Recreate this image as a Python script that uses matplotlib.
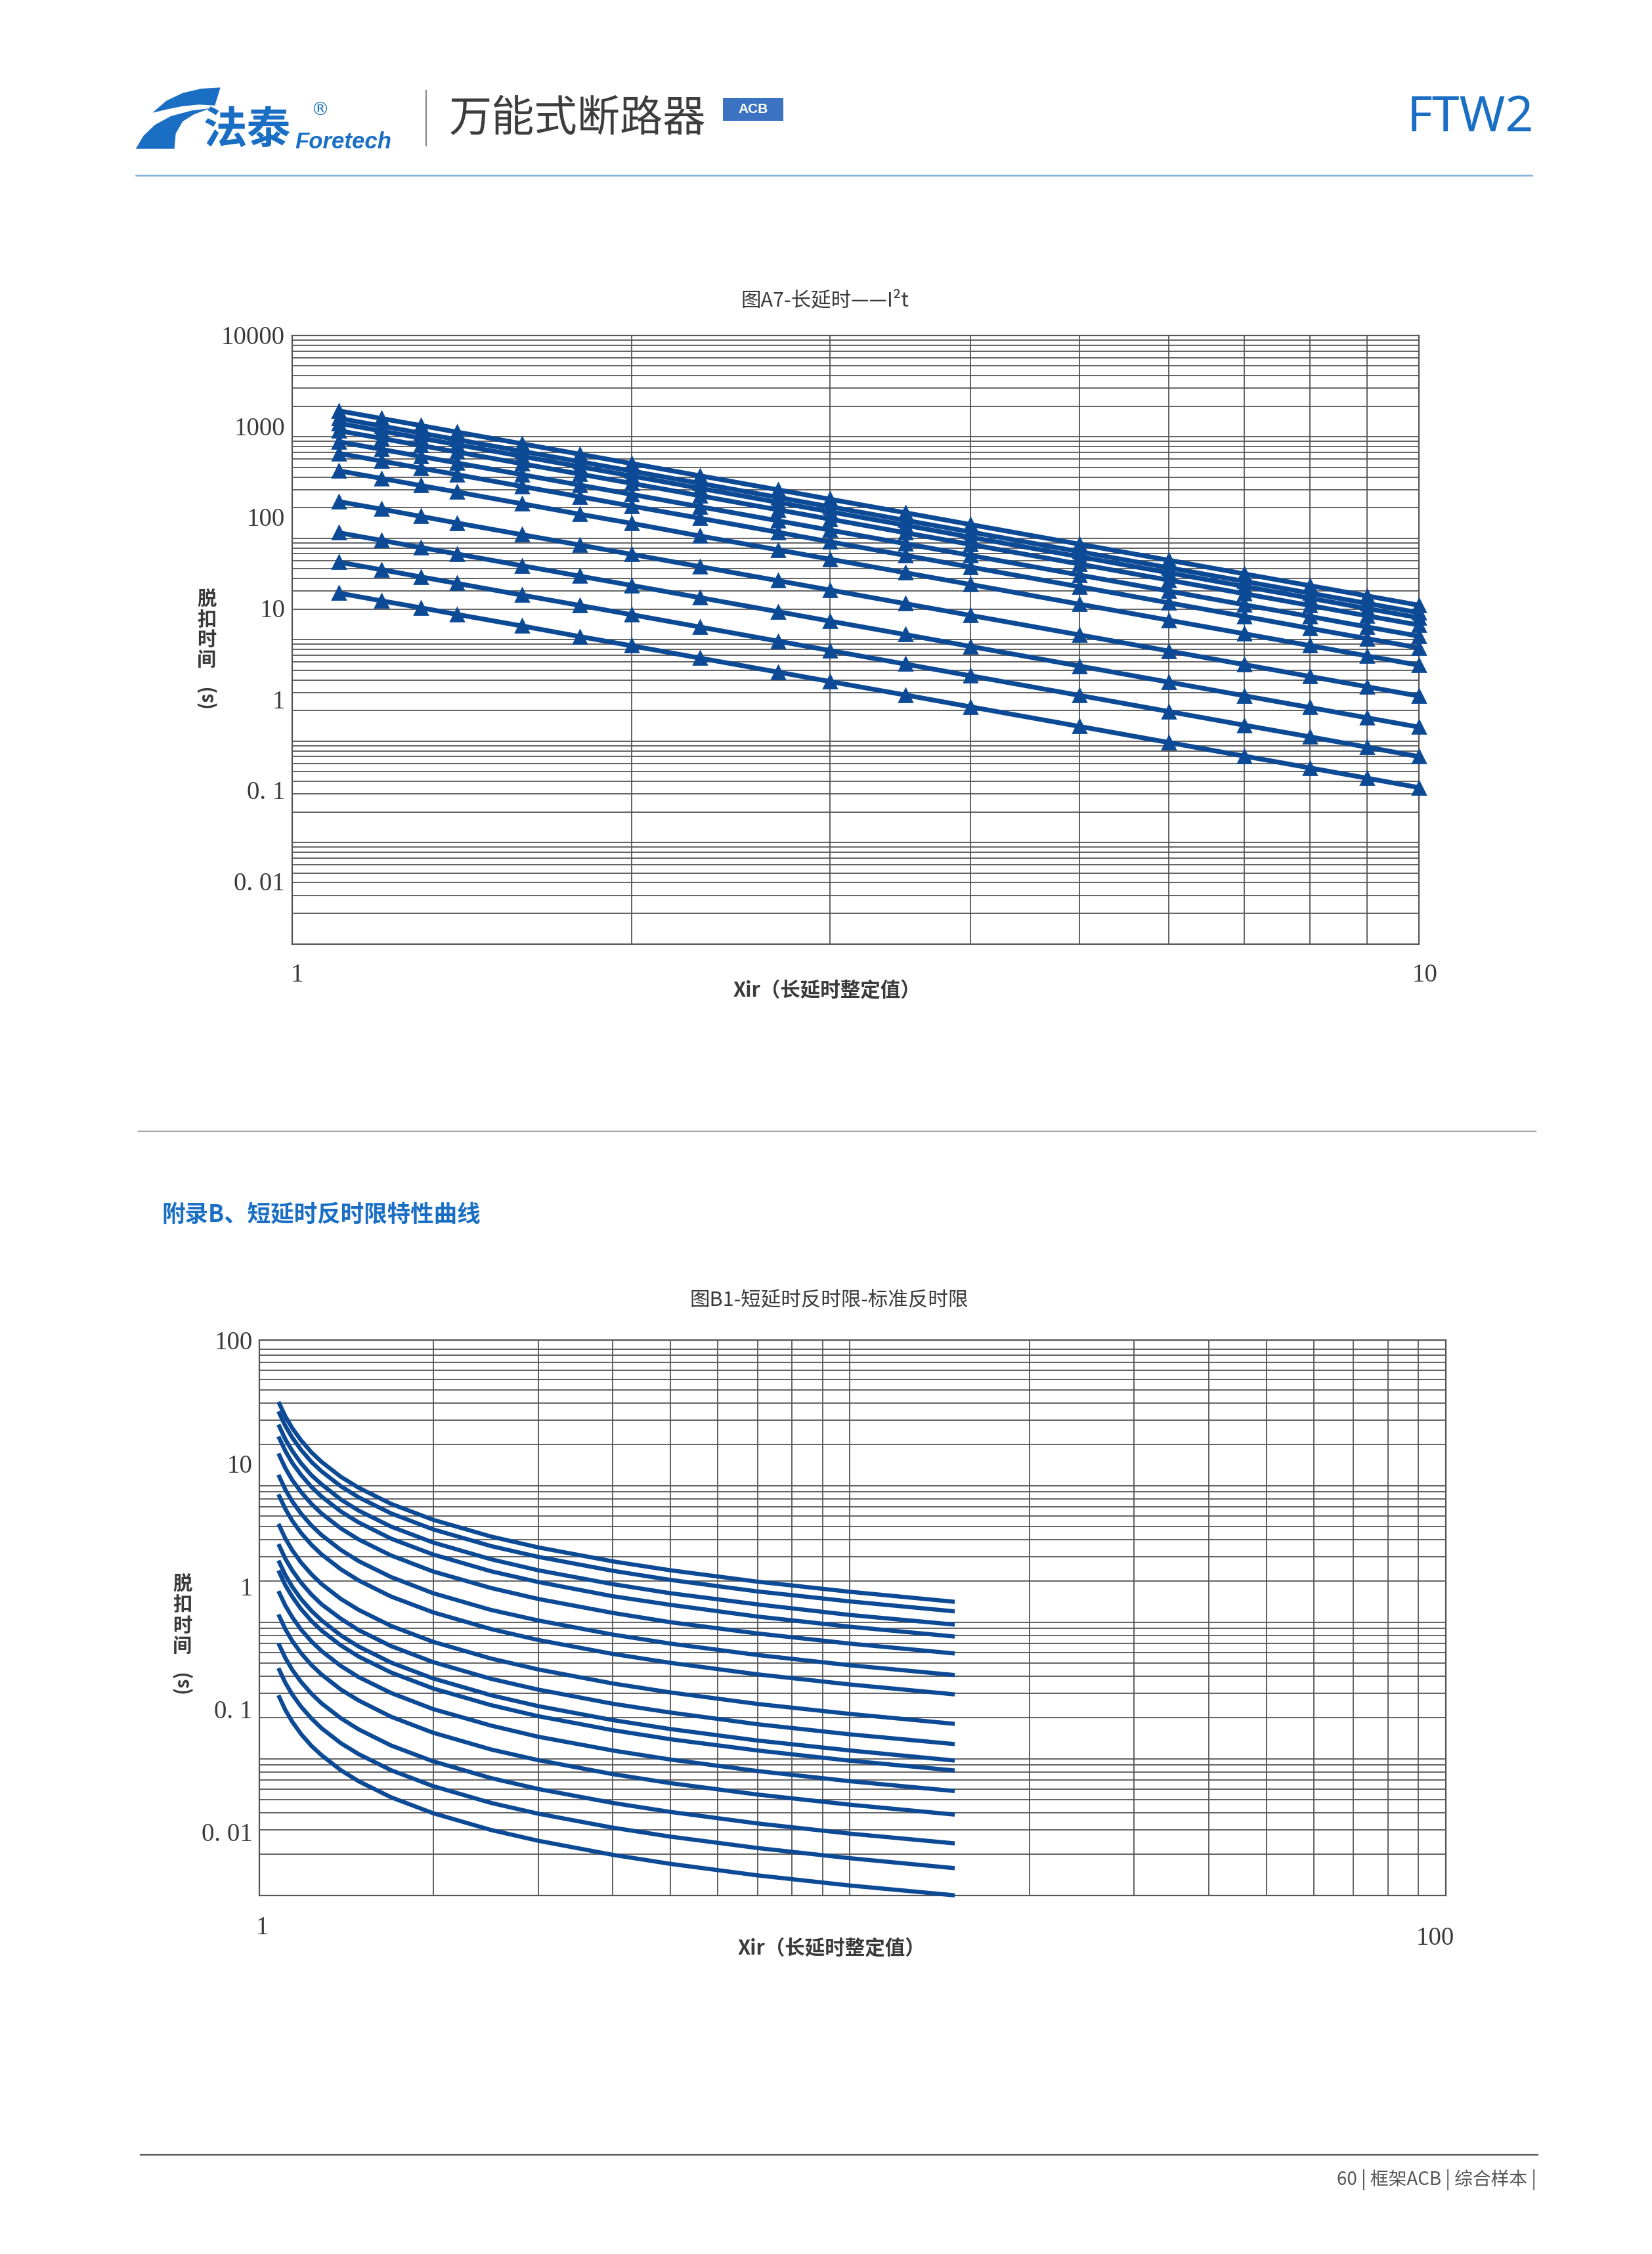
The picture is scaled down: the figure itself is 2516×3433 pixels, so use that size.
import numpy as np
import matplotlib
matplotlib.use("Agg")
import matplotlib.pyplot as plt
from matplotlib.ticker import LogLocator, NullLocator, NullFormatter
from matplotlib.patches import Rectangle, Polygon
from matplotlib.lines import Line2D
import matplotlib.transforms as mtransforms

# ---------------- data : figure A7 (long delay, I2t) ----------------
A7_X = [1.1, 1.2, 1.3, 1.4, 1.6, 1.8, 2, 2.3, 2.7, 3, 3.5, 4, 5, 6, 7, 8, 9, 10]
A7_T01 = [1800, 1512, 1289, 1111, 851, 672, 544, 412, 299, 242, 178, 136, 87.1, 60.5, 44.4, 34.0, 26.9, 21.8]
A7_T02 = [1517, 1275, 1086, 937, 717, 567, 459, 347, 252, 204, 150, 115, 73.4, 51, 37.5, 28.7, 22.7, 18.4]
A7_T03 = [1354, 1138, 969, 836, 640, 506, 410, 310, 225, 182, 134, 102, 65.5, 45.5, 33.4, 25.6, 20.2, 16.4]
A7_T04 = [1145, 963, 820, 707, 541, 428, 347, 262, 190, 154, 113, 86.6, 55.4, 38.5, 28.3, 21.7, 17.1, 13.9]
A7_T05 = [893, 750, 639, 551, 422, 333, 270, 204, 148, 120, 88.2, 67.5, 43.2, 30, 22.0, 16.9, 13.3, 10.8]
A7_T06 = [684, 575, 490, 423, 323, 256, 207, 157, 114, 92, 67.6, 51.8, 33.1, 23, 16.9, 12.9, 10.2, 8.28]
A7_T07 = [461, 388, 330, 285, 218, 172, 140, 105, 76.5, 62, 45.6, 34.9, 22.3, 15.5, 11.4, 8.72, 6.89, 5.58]
A7_T08 = [229, 193, 164, 141, 108, 85.5, 69.3, 52.4, 38.0, 30.8, 22.6, 17.3, 11.1, 7.7, 5.66, 4.33, 3.42, 2.77]
A7_T09 = [113, 95, 80.9, 69.8, 53.4, 42.2, 34.2, 25.9, 18.8, 15.2, 11.2, 8.55, 5.47, 3.8, 2.79, 2.14, 1.69, 1.37]
A7_T10 = [58.0, 48.8, 41.5, 35.8, 27.4, 21.7, 17.6, 13.3, 9.63, 7.8, 5.73, 4.39, 2.81, 1.95, 1.43, 1.10, 0.867, 0.702]
A7_T11 = [28.7, 24.1, 20.6, 17.7, 13.6, 10.7, 8.69, 6.57, 4.77, 3.86, 2.84, 2.17, 1.39, 0.965, 0.709, 0.543, 0.429, 0.347]
A7_SERIES = [A7_T01, A7_T02, A7_T03, A7_T04, A7_T05, A7_T06, A7_T07, A7_T08, A7_T09, A7_T10, A7_T11]
A7_YLABELS = ["10000", "1000", "100", "10", "1", "0. 1", "0. 01"]
A7_XLABELS = ["1", "10"]

# ---------------- data : figure B1 (short delay inverse time) ----------------
B1_X = [1.1, 1.13, 1.16, 1.2, 1.25, 1.3, 1.4, 1.5, 1.7, 2, 2.5, 3, 4, 5, 7, 10, 15]
B1_T01 = [41.1, 32.1, 26.4, 21.5, 17.5, 14.9, 11.6, 9.64, 7.35, 5.62, 4.24, 3.53, 2.79, 2.40, 1.98, 1.67, 1.41]
B1_T02 = [35.0, 27.3, 22.5, 18.3, 14.9, 12.7, 9.89, 8.20, 6.26, 4.78, 3.61, 3.01, 2.38, 2.04, 1.68, 1.42, 1.20]
B1_T03 = [28.0, 21.8, 18.0, 14.6, 11.9, 10.2, 7.91, 6.56, 5.01, 3.83, 2.89, 2.40, 1.90, 1.63, 1.35, 1.13, 0.96]
B1_T04 = [22.9, 17.9, 14.7, 12.0, 9.77, 8.30, 6.47, 5.37, 4.09, 3.13, 2.36, 1.97, 1.55, 1.34, 1.10, 0.927, 0.785]
B1_T05 = [17.2, 13.4, 11.0, 8.99, 7.34, 6.24, 4.86, 4.03, 3.08, 2.35, 1.78, 1.48, 1.17, 1.00, 0.827, 0.697, 0.59]
B1_T06 = [12.0, 9.32, 7.68, 6.25, 5.10, 4.34, 3.38, 2.80, 2.14, 1.63, 1.23, 1.03, 0.812, 0.697, 0.575, 0.484, 0.41]
B1_T07 = [8.63, 6.73, 5.54, 4.51, 3.68, 3.13, 2.44, 2.02, 1.54, 1.18, 0.891, 0.741, 0.586, 0.504, 0.415, 0.350, 0.296]
B1_T08 = [5.25, 4.09, 3.37, 2.74, 2.24, 1.90, 1.48, 1.23, 0.939, 0.718, 0.542, 0.451, 0.356, 0.306, 0.252, 0.213, 0.18]
B1_T09 = [3.73, 2.91, 2.40, 1.95, 1.59, 1.35, 1.06, 0.875, 0.668, 0.510, 0.385, 0.321, 0.253, 0.218, 0.179, 0.151, 0.128]
B1_T10 = [2.83, 2.21, 1.82, 1.48, 1.21, 1.03, 0.80, 0.663, 0.506, 0.387, 0.292, 0.243, 0.192, 0.165, 0.136, 0.115, 0.097]
B1_T11 = [2.39, 1.86, 1.54, 1.25, 1.02, 0.867, 0.676, 0.560, 0.428, 0.327, 0.247, 0.205, 0.162, 0.139, 0.115, 0.0968, 0.082]
B1_T12 = [1.69, 1.32, 1.09, 0.884, 0.722, 0.614, 0.478, 0.396, 0.303, 0.231, 0.175, 0.145, 0.115, 0.0987, 0.0813, 0.0685, 0.058]
B1_T13 = [1.14, 0.887, 0.730, 0.594, 0.485, 0.413, 0.321, 0.267, 0.203, 0.155, 0.117, 0.0977, 0.0772, 0.0663, 0.0547, 0.0461, 0.039]
B1_T14 = [0.700, 0.546, 0.449, 0.366, 0.299, 0.254, 0.198, 0.164, 0.125, 0.0957, 0.0722, 0.0601, 0.0475, 0.0408, 0.0336, 0.0283, 0.024]
B1_T15 = [0.461, 0.359, 0.296, 0.241, 0.197, 0.167, 0.130, 0.108, 0.0824, 0.0630, 0.0475, 0.0396, 0.0313, 0.0269, 0.0222, 0.0187, 0.0158]
B1_T16 = [0.292, 0.227, 0.187, 0.152, 0.124, 0.106, 0.0824, 0.0684, 0.0522, 0.0399, 0.0301, 0.0251, 0.0198, 0.0170, 0.0140, 0.0118, 0.0100]
B1_SERIES = [B1_T01, B1_T02, B1_T03, B1_T04, B1_T05, B1_T06, B1_T07, B1_T08,
             B1_T09, B1_T10, B1_T11, B1_T12, B1_T13, B1_T14, B1_T15, B1_T16]
B1_YLABELS = ["100", "10", "1", "0. 1", "0. 01"]
B1_XLABELS = ["1", "100"]

# ---------------- page setup ----------------
W, H = 2516, 3433
DPI = 200
BLUE = '#0d4a96'
BRAND = '#1a6fc4'
GRID = '#555555'
TXT = '#3a3a3a'
CJK = ['Noto Sans CJK SC', 'DejaVu Sans']
SERIF = ['Liberation Serif', 'DejaVu Serif']
plt.rcParams['font.family'] = CJK

fig = plt.figure(figsize=(W / DPI, H / DPI), dpi=DPI)
fig.patch.set_facecolor('white')


def fx(x):
    return x / W


def fy(y):
    return 1 - y / H


def hline(x0, x1, y, color, lw):
    fig.add_artist(Line2D([fx(x0), fx(x1)], [fy(y), fy(y)], color=color, lw=lw,
                          transform=fig.transFigure))


def setup_log_axes(ax, xlim, ylim):
    ax.set_xscale('log')
    ax.set_yscale('log')
    ax.set_xlim(*xlim)
    ax.set_ylim(*ylim)
    for axis in (ax.xaxis, ax.yaxis):
        axis.set_major_locator(LogLocator(base=10, subs=np.arange(1, 10), numticks=200))
        axis.set_minor_locator(NullLocator())
        axis.set_major_formatter(NullFormatter())
    ax.tick_params(length=0)
    ax.grid(True, which='major', color=GRID, lw=0.65)
    ax.set_axisbelow(True)
    for s in ax.spines.values():
        s.set_color(GRID)
        s.set_linewidth(0.8)
    ax.set_facecolor('white')


def ylabels(ax, labels, first_log, step, pad_px):
    off = mtransforms.ScaledTranslation(-pad_px / DPI, 0, fig.dpi_scale_trans)
    tr = ax.get_yaxis_transform() + off
    for i, lab in enumerate(labels):
        ax.text(0, 10 ** (first_log - step * i), lab, transform=tr, ha='right', va='center',
                fontsize=14, color=TXT, family=SERIF)


def vertical_label(x, y0, pitch, y_s):
    for i, ch in enumerate("脱扣时间"):
        fig.text(fx(x), fy(y0 + i * pitch), ch, ha='center', va='center', fontsize=10.5,
                 color=TXT, weight='bold')
    fig.text(fx(x), fy(y_s), "(s)", ha='center', va='center', fontsize=10.5, color=TXT,
             rotation=90, weight='bold')


# ---------------- header ----------------
logo_top = [(335.7, 133.3), (306.3, 135), (278.2, 141.7), (253.7, 153.3), (236.1, 168.3),
            (232.6, 171.7), (253.7, 166.7), (278.2, 161.7), (302.8, 159.3), (327.3, 160.7)]
logo_low = [(206.7, 226.7), (218.6, 206.7), (236.1, 190), (260.7, 176.7), (292.2, 168.3),
            (320.3, 165), (295.7, 174), (278.2, 185), (267.7, 203.3), (265.6, 226.7)]
for pts in (logo_top, logo_low):
    fig.add_artist(Polygon([(fx(a), fy(b)) for a, b in pts], closed=True, facecolor=BRAND,
                           edgecolor='none', transform=fig.transFigure))
fig.text(fx(310), fy(199), "法泰", ha='left', va='center', fontsize=24, weight='bold', color=BRAND)
fig.text(fx(449), fy(226), "Foretech", ha='left', va='baseline', fontsize=12.5, weight='bold',
         style='italic', color=BRAND, family=['Liberation Sans', 'DejaVu Sans'])
fig.text(fx(487), fy(168), "®", ha='center', va='center', fontsize=10, color=BRAND,
         family=['DejaVu Sans'])
fig.add_artist(Line2D([fx(648.6), fx(648.6)], [fy(138), fy(222)], color='#8a8a8a', lw=0.8,
                      transform=fig.transFigure))
fig.text(fx(684), fy(181), "万能式断路器", ha='left', va='center', fontsize=23.5, color='#3d3d3d',
         weight='light')
fig.add_artist(Rectangle((fx(1101), fy(184)), fx(92), 35 / H, facecolor='#3b73c2',
                         edgecolor='none', transform=fig.transFigure))
fig.text(fx(1147), fy(166.5), "ACB", ha='center', va='center', fontsize=7.5, weight='bold',
         color='white', family=['Liberation Sans', 'DejaVu Sans'])
fig.text(fx(2336), fy(180), "FTW2", ha='right', va='center', fontsize=27, color=BRAND,
         family=['Noto Sans', 'DejaVu Sans'], weight='semibold')
hline(206.7, 2333, 266.7, '#7fb0e0', 0.9)

# ---------------- figure A7 ----------------
axA = fig.add_axes([fx(445), fy(1437.5), (2161 - 445) / W, (1437.5 - 510.6) / H])
setup_log_axes(axA, (1, 10), (1e-2, 1e4))
for t in A7_SERIES:
    axA.plot(A7_X, t, color=BLUE, lw=2.6, marker='^', ms=7.5, clip_on=False, zorder=3)
ylabels(axA, A7_YLABELS, 3.974, 0.8975, 11)
fig.text(fx(452), fy(1486), A7_XLABELS[0], ha='center', va='center', fontsize=14, color=TXT,
         family=SERIF)
fig.text(fx(2170), fy(1486), A7_XLABELS[1], ha='center', va='center', fontsize=14, color=TXT,
         family=SERIF)
fig.text(fx(1256), fy(458), "图A7-长延时——I²t", ha='center', va='center', fontsize=11, color=TXT)
fig.text(fx(1259), fy(1509), "Xir（长延时整定值）", ha='center', va='center', fontsize=11,
         color=TXT, weight='bold')
vertical_label(314.4, 913, 30.6, 1060)

# ---------------- separator & section heading ----------------
hline(210.7, 2339, 1723.3, '#aaaaaa', 0.8)
fig.text(fx(246), fy(1850), "附录B、短延时反时限特性曲线", ha='left', va='center', fontsize=12.8,
         weight='bold', color=BRAND)

# ---------------- figure B1 ----------------
axB = fig.add_axes([fx(394.7), fy(2886.7), (2202 - 394.7) / W, (2886.7 - 2041) / H])
setup_log_axes(axB, (1.021, 100), (1e-2, 10 ** 2.066))
for t in B1_SERIES:
    axB.plot(B1_X, t, color=BLUE, lw=2.3, clip_on=False, zorder=3, solid_capstyle='butt')
ylabels(axB, B1_YLABELS, 2.042, 0.9, 10)
fig.text(fx(399), fy(2937), B1_XLABELS[0], ha='center', va='center', fontsize=14, color=TXT,
         family=SERIF)
fig.text(fx(2186), fy(2953), B1_XLABELS[1], ha='center', va='center', fontsize=14, color=TXT,
         family=SERIF)
fig.text(fx(1262.6), fy(1980), "图B1-短延时反时限-标准反时限", ha='center', va='center', fontsize=11,
         color=TXT)
fig.text(fx(1266), fy(2968), "Xir（长延时整定值）", ha='center', va='center', fontsize=11,
         color=TXT, weight='bold')
vertical_label(277.6, 2413, 31.3, 2561)

# ---------------- footer ----------------
hline(214, 2341.7, 3282, '#555555', 0.8)
fig.text(fx(2340), fy(3320), "60 | 框架ACB | 综合样本 |", ha='right', va='center', fontsize=10,
         color='#555555')

fig.savefig("out.png", dpi=DPI, facecolor='white')
